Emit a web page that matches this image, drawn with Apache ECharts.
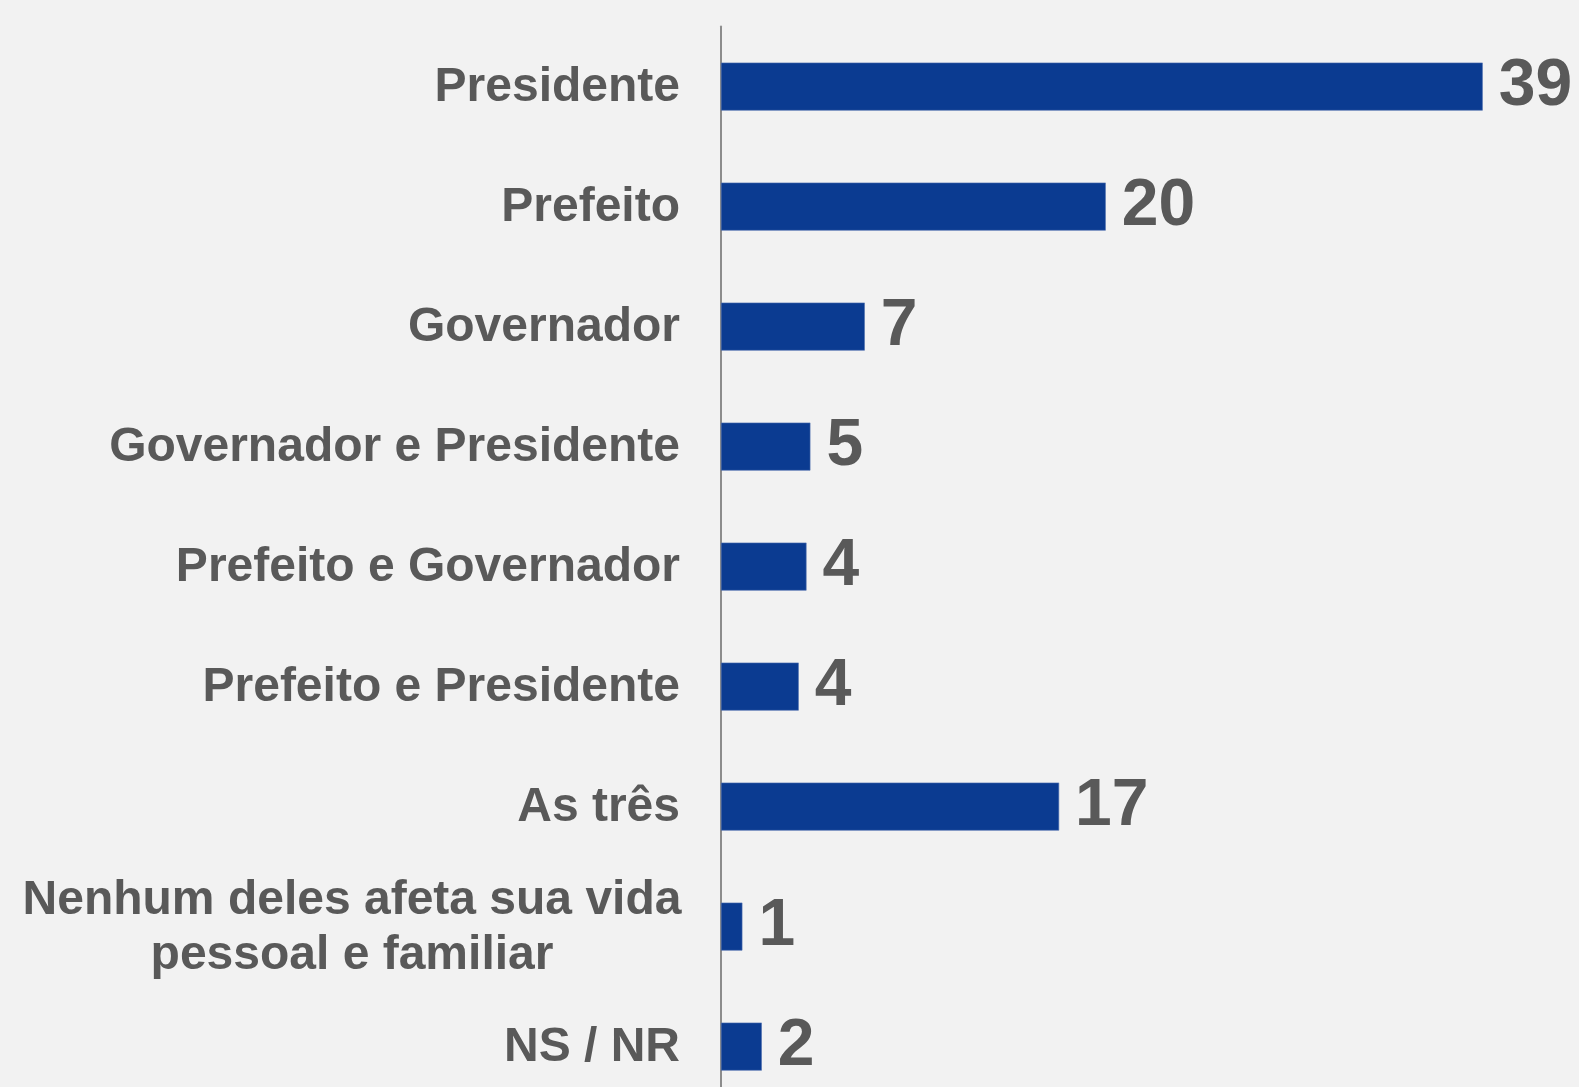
<!DOCTYPE html>
<html>
<head>
<meta charset="utf-8">
<script src="https://cdn.jsdelivr.net/npm/echarts@6/dist/echarts.min.js"></script>
<style>
html,body{margin:0;padding:0;background:#f2f2f2;}
#chart{width:1579px;height:1087px;}
</style>
</head>
<body>
<div id="chart"></div>
<script>
const categories = [
  "Presidente",
  "Prefeito",
  "Governador",
  "Governador e Presidente",
  "Prefeito e Governador",
  "Prefeito e Presidente",
  "As três",
  "Nenhum deles afeta sua vida\npessoal e familiar",
  "NS / NR"
];
const values = [39.2, 19.8, 7.4, 4.6, 4.4, 4.0, 17.4, 1.1, 2.1];
const valueLabels = ["39", "20", "7", "5", "4", "4", "17", "1", "2"];

const chart = echarts.init(document.getElementById('chart'));
chart.setOption({
  backgroundColor: '#f2f2f2',
  animation: false,
  grid: { left: 721, right: 3, top: 26.6, height: 1080, containLabel: false, outerBoundsMode: 'none' },
  xAxis: {
    type: 'value', min: 0, max: 44,
    show: false, splitLine: { show: false }
  },
  yAxis: {
    type: 'category', data: categories, inverse: true,
    axisLine: { show: true, lineStyle: { color: '#8c8c8c', width: 2 } },
    axisTick: { show: false },
    axisLabel: {
      margin: 41,
      color: '#595959',
      fontFamily: '"Liberation Sans", Arial, sans-serif',
      fontWeight: 'bold',
      fontSize: 48,
      lineHeight: 55,
      padding: [3, 0, 0, 0],
      formatter: function (v) {
        if (v.indexOf('\n') >= 0) {
          return v.split('\n').map(function (s) { return '{c|' + s + '}'; }).join('\n');
        }
        return v;
      },
      rich: {
        c: {
          width: 656, align: 'center',
          color: '#595959', fontFamily: '"Liberation Sans", Arial, sans-serif',
          fontWeight: 'bold', fontSize: 48, lineHeight: 55
        }
      }
    }
  },
  series: [{
    type: 'bar',
    data: values,
    barWidth: 48,
    itemStyle: { color: '#0b3b91', borderColor: '#4f6fae', borderWidth: 0.6 },
    label: {
      show: true, position: 'right', distance: 16,
      color: '#595959',
      fontFamily: '"Liberation Sans", Arial, sans-serif',
      fontWeight: 'bold', fontSize: 66,
      formatter: function (p) { return valueLabels[p.dataIndex]; }
    }
  }]
});
</script>
</body>
</html>
